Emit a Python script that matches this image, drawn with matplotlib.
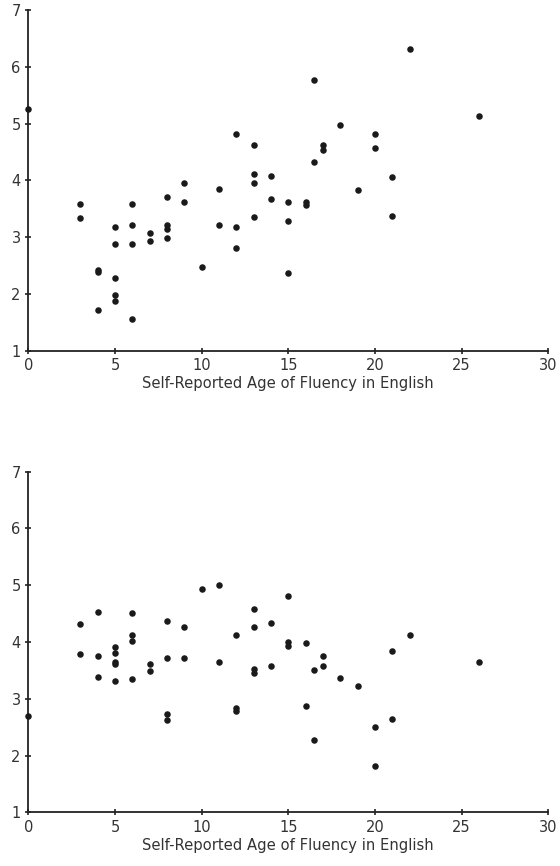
import matplotlib
matplotlib.use("Agg")
import matplotlib.pyplot as plt

# age of fluency (shared by both panels)
age = [0, 3, 3, 4, 4, 4, 5, 5, 5, 5, 5, 6, 6, 6, 6, 7, 7, 8, 8, 8, 8, 9, 9, 10,
       11, 11, 12, 12, 12, 13, 13, 13, 13, 14, 14, 15, 15, 15, 16, 16, 16.5, 16.5,
       17, 17, 18, 19, 20, 20, 21, 21, 22, 26]

top_vals = [5.25, 3.58, 3.34, 2.43, 2.39, 1.72, 3.18, 2.88, 2.28, 1.99, 1.87,
            3.59, 3.22, 2.88, 1.55, 3.08, 2.93, 3.70, 3.21, 3.14, 2.98, 3.95, 3.61,
            2.48, 3.85, 3.21, 4.82, 3.17, 2.81, 4.62, 4.11, 3.95, 3.36, 4.07, 3.665,
            3.62, 3.28, 2.36, 3.61, 3.56, 5.76, 4.32, 4.62, 4.54, 4.98, 3.83, 4.82,
            4.57, 4.06, 3.38, 6.31, 5.13]

bottom_vals = [2.69, 4.32, 3.79, 4.52, 3.75, 3.38, 3.92, 3.81, 3.65, 3.61, 3.32,
               4.51, 4.13, 4.02, 3.35, 3.61, 3.49, 4.37, 3.72, 2.74, 2.62, 4.26, 3.72,
               4.93, 5.01, 3.65, 4.12, 2.83, 2.78, 4.58, 4.26, 3.52, 3.45, 4.34, 3.58,
               4.81, 4.00, 3.93, 3.98, 2.87, 3.51, 2.27, 3.75, 3.57, 3.37, 3.22, 2.51,
               1.81, 3.84, 2.65, 4.13, 3.64]

xlabel = "Self-Reported Age of Fluency in English"

fig = plt.figure(figsize=(5.6, 8.66), dpi=100)
ax1 = fig.add_axes([0.0505, 0.595, 0.9285, 0.3935])
ax2 = fig.add_axes([0.0505, 0.062, 0.9285, 0.3933])

for ax, vals in [(ax1, top_vals), (ax2, bottom_vals)]:
    ax.scatter(age, vals, s=22, color="#1a1a1a", linewidths=0, clip_on=False, zorder=3)
    ax.set_xlim(0, 30)
    ax.set_ylim(1, 7)
    ax.set_xticks(range(0, 31, 5))
    ax.set_yticks(range(1, 8))
    for side in ["top", "right"]:
        ax.spines[side].set_visible(False)
    for side in ["left", "bottom"]:
        ax.spines[side].set_linewidth(1.3)
        ax.spines[side].set_color("#222222")
    ax.tick_params(direction="inout", length=5, width=1.2, color="#222222",
                   labelsize=10.5, labelcolor="#333333", pad=3)
    ax.set_xlabel(xlabel, fontsize=10.6, color="#333333", labelpad=2)

fig.savefig("out.png", dpi=100)
